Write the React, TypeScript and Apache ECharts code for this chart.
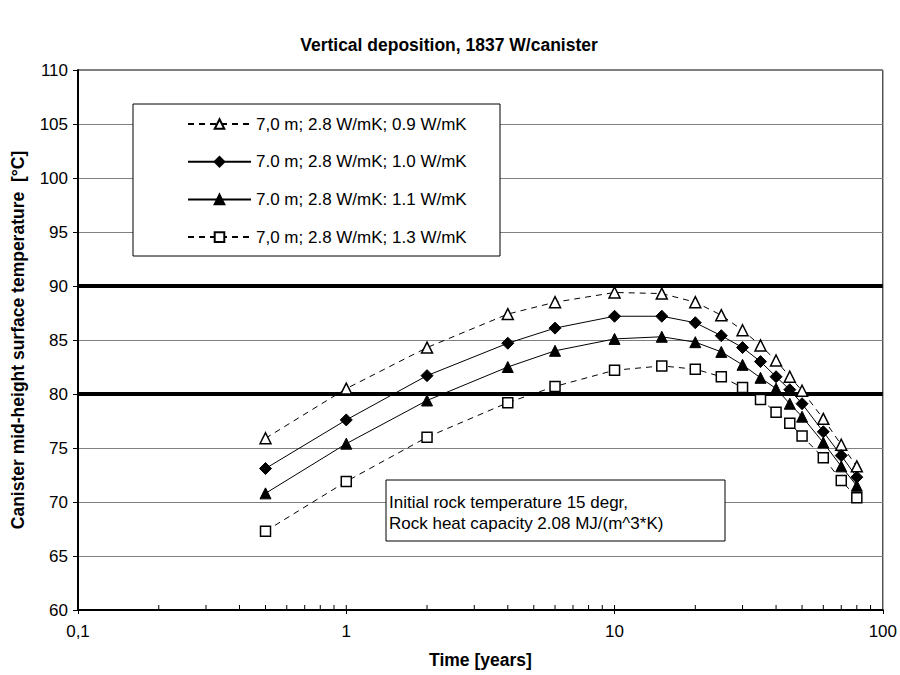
import React, { useEffect, useRef } from "react";
import * as echarts from "echarts";

const years = [0.5, 1, 2, 4, 6, 10, 15, 20, 25, 30, 35, 40, 45, 50, 60, 70, 80];
const s09 = [75.9, 80.5, 84.3, 87.4, 88.5, 89.4, 89.3, 88.5, 87.3, 85.9, 84.5, 83.1, 81.6, 80.3, 77.7, 75.3, 73.3];
const s10 = [73.1, 77.6, 81.7, 84.7, 86.1, 87.2, 87.2, 86.6, 85.4, 84.3, 83.0, 81.6, 80.4, 79.1, 76.5, 74.3, 72.3];
const s11 = [70.8, 75.4, 79.4, 82.5, 84.0, 85.1, 85.3, 84.8, 83.9, 82.7, 81.5, 80.5, 79.1, 77.9, 75.5, 73.3, 71.5];
const s13 = [67.3, 71.9, 76.0, 79.2, 80.7, 82.2, 82.6, 82.3, 81.6, 80.6, 79.5, 78.3, 77.3, 76.1, 74.1, 72.0, 70.4];
const names = [
  "7,0 m; 2.8 W/mK; 0.9 W/mK",
  "7.0 m; 2.8 W/mK; 1.0 W/mK",
  "7.0 m; 2.8 W/mK: 1.1 W/mK",
  "7,0 m; 2.8 W/mK; 1.3 W/mK",
];
const xTicks = [0.2, 0.3, 0.4, 0.5, 0.6, 0.7, 0.8, 0.9, 1, 2, 3, 4, 5, 6, 7, 8, 9, 10, 20, 30, 40, 50, 60, 70, 80, 90];
const limitLines = [80, 90];
const noteLines = ["Initial rock temperature 15 degr,", "Rock heat capacity 2.08 MJ/(m^3*K)"];

const FONT = 'Arial, "Liberation Sans", sans-serif';

export default function App() {
  const ref = useRef<HTMLDivElement>(null);
  useEffect(() => {
    if (!ref.current) return;
    const chart = echarts.init(ref.current, undefined, { renderer: "svg" });
    const pts = (arr: number[]) => years.map((x, i) => [x, arr[i]]);
    const dashed = [6, 5];
    const mk = (
      name: string,
      arr: number[],
      symbol: string,
      filled: boolean,
      dash: boolean,
      size: number
    ) => ({
      type: "line",
      name,
      data: pts(arr),
      symbol,
      symbolSize: size,
      lineStyle: { color: "#000", width: 1, type: dash ? dashed : "solid" },
      itemStyle: {
        color: filled ? "#000" : "#fff",
        borderColor: "#000",
        borderWidth: filled ? 1 : 1.5,
      },
      z: 5,
    });
    chart.setOption({
      animation: false,
      textStyle: { fontFamily: FONT },
      title: {
        text: "Vertical deposition, 1837 W/canister",
        left: 449,
        textAlign: "center",
        top: 36,
        padding: 0,
        textStyle: { fontSize: 17.5, fontWeight: "bold", color: "#000", fontFamily: FONT },
      },
      grid: {
        left: 78,
        top: 70,
        right: 16,
        bottom: 65,
        show: true,
        borderColor: "#000",
        borderWidth: 1,
        backgroundColor: "transparent",
      },
      legend: {
        data: names,
        orient: "vertical",
        left: 187,
        top: 115.5,
        padding: 0,
        itemWidth: 63,
        itemHeight: 12,
        itemGap: 20.7,
        z: 20,
        textStyle: { fontSize: 17, color: "#000", fontFamily: FONT, padding: [0, 0, 0, 0] },
        selectedMode: false,
      },
      graphic: [
        {
          type: "rect",
          shape: { x: 133, y: 104, width: 367, height: 152 },
          style: { fill: "#fff", stroke: "#000", lineWidth: 1 },
          z: 15,
        },
        {
          type: "rect",
          shape: { x: 386, y: 480, width: 339, height: 61 },
          style: { fill: "#fff", stroke: "#000", lineWidth: 1 },
          z: 15,
        },
        {
          type: "text",
          x: 389,
          y: 502,
          style: { text: noteLines[0], fontSize: 17, fontFamily: FONT, fill: "#000", textVerticalAlign: "middle" },
          z: 16,
        },
        {
          type: "text",
          x: 389,
          y: 523,
          style: { text: noteLines[1], fontSize: 17, fontFamily: FONT, fill: "#000", textVerticalAlign: "middle" },
          z: 16,
        },
      ],
      xAxis: {
        type: "log",
        logBase: 10,
        min: 0.1,
        max: 100,
        name: "Time [years]",
        nameLocation: "middle",
        nameGap: 41,
        nameTextStyle: { fontSize: 17.5, fontWeight: "bold", color: "#000", fontFamily: FONT },
        axisLine: { lineStyle: { color: "#000", width: 2 } },
        axisTick: { show: true, length: 4, lineStyle: { color: "#000", width: 1 } },
        minorTick: { show: false },
        splitLine: { show: false },
        axisLabel: {
          fontSize: 17,
          color: "#000",
          margin: 13,
          fontFamily: FONT,
          formatter: (v: number) => (v < 1 ? String(v).replace(".", ",") : String(Math.round(v))),
        },
      },
      yAxis: {
        type: "value",
        min: 60,
        max: 110,
        interval: 5,
        name: "Canister mid-height surface temperature  [°C]",
        nameLocation: "middle",
        nameGap: 51,
        nameTextStyle: { fontSize: 17.5, fontWeight: "bold", color: "#000", fontFamily: FONT },
        axisLine: { show: true, lineStyle: { color: "#000", width: 2 } },
        axisTick: { show: true, length: 5, lineStyle: { color: "#000", width: 1 } },
        splitLine: { show: true, lineStyle: { color: "#808080", width: 1 } },
        axisLabel: { fontSize: 17, color: "#000", margin: 10, fontFamily: FONT },
      },
      series: [
        {
          type: "custom",
          name: "minorTicks",
          data: xTicks.map((v) => [v, 60]),
          silent: true,
          z: 3,
          renderItem: (params: any, api: any) => {
            const p = api.coord([api.value(0), api.value(1)]);
            return {
              type: "line",
              shape: { x1: p[0], y1: p[1], x2: p[0], y2: p[1] - 5 },
              style: { stroke: "#000", lineWidth: 1 },
            };
          },
          markLine: {
            silent: true,
            symbol: "none",
            label: { show: false },
            lineStyle: { color: "#000", width: 4, type: "solid" },
            data: limitLines.map((v) => ({ yAxis: v })),
          },
        },
        mk(names[0], s09, "triangle", false, true, 11),
        mk(names[1], s10, "diamond", true, false, 12),
        mk(names[2], s11, "triangle", true, false, 11),
        mk(names[3], s13, "rect", false, true, 10),
      ],
    });
    return () => chart.dispose();
  }, []);
  return (
    <div
      ref={ref}
      style={{ position: "fixed", left: 0, top: 0, width: 900, height: 675, background: "#fff" }}
    />
  );
}
